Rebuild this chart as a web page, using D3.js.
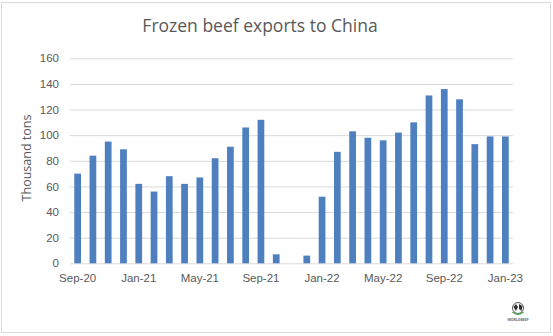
<!DOCTYPE html>
<html>
<head>
<meta charset="utf-8">
<script src="https://cdn.jsdelivr.net/npm/d3@7"></script>
<style>
  body { margin: 0; background: #fff; }
  svg { display: block; font-family: "Open Sans", "Noto Sans", sans-serif; }
</style>
</head>
<body>
<svg id="js-svg" width="553" height="336"></svg>
<script>
// monthly frozen beef exports, thousand tons
const months = [
  "Sep-20", "Oct-20", "Nov-20", "Dec-20", "Jan-21", "Feb-21", "Mar-21", "Apr-21",
  "May-21", "Jun-21", "Jul-21", "Aug-21", "Sep-21", "Oct-21", "Nov-21", "Dec-21",
  "Jan-22", "Feb-22", "Mar-22", "Apr-22", "May-22", "Jun-22", "Jul-22", "Aug-22",
  "Sep-22", "Oct-22", "Nov-22", "Dec-22", "Jan-23"
];
const exportsK = [
  70, 84, 95, 89, 62, 56, 68, 62,
  67, 82, 91, 106, 112, 7, 0, 6,
  52, 87, 103, 98, 96, 102, 110, 131,
  136, 128, 93, 99, 99
];
const tickLabels = ["Sep-20", "Jan-21", "May-21", "Sep-21", "Jan-22", "May-22", "Sep-22", "Jan-23"];
const yTicks = [0, 20, 40, 60, 80, 100, 120, 140, 160];

const svg = d3.select("#js-svg");
const plotLeft = 70, plotRight = 513, plotTop = 58.3, plotBottom = 263.3;

// outer chart frame
svg.append("rect")
  .attr("x", 1.5).attr("y", 2.5)
  .attr("width", 549).attr("height", 330)
  .attr("fill", "none")
  .attr("stroke", "#d9d9d9");

const x = d3.scaleBand().domain(months).range([plotLeft, plotRight]).paddingInner(0.56).paddingOuter(0.28);
const y = d3.scaleLinear().domain([0, 160]).range([plotBottom, plotTop]);

// gridlines + y labels
const yAxis = d3.axisLeft(y).tickValues(yTicks).tickSize(-(plotRight - plotLeft)).tickPadding(11);
const gy = svg.append("g").attr("transform", `translate(${plotLeft},0)`).call(yAxis);
gy.select(".domain").remove();
gy.selectAll("line").attr("stroke", "#d9d9d9");
gy.selectAll("text").attr("fill", "#595959").style("font-size", "11.5px");

// bars
svg.append("g").selectAll("rect")
  .data(exportsK)
  .join("rect")
  .attr("x", (d, i) => x(months[i]))
  .attr("width", x.bandwidth())
  .attr("y", (d) => y(d))
  .attr("height", (d) => plotBottom - y(d))
  .attr("fill", "#4e7fbf");

// x axis labels
const xAxis = d3.axisBottom(x).tickValues(tickLabels).tickSize(0).tickPadding(11);
const gx = svg.append("g").attr("transform", `translate(0,${plotBottom})`).call(xAxis);
gx.select(".domain").remove();
gx.selectAll("text").attr("fill", "#595959").style("font-size", "11.5px");

// title
svg.append("text")
  .attr("x", 260).attr("y", 32)
  .attr("text-anchor", "middle")
  .attr("fill", "#595959")
  .style("font-size", "17.5px")
  .text("Frozen beef exports to China");

// y axis title
svg.append("text")
  .attr("transform", "translate(31,158) rotate(-90)")
  .attr("text-anchor", "middle")
  .attr("fill", "#595959")
  .style("font-size", "12.5px")
  .text("Thousand tons");

// small logo bottom right
const logo = svg.append("g").attr("transform", "translate(518,308)");
logo.append("circle").attr("r", 5.5).attr("fill", "#fff").attr("stroke", "#555").attr("stroke-width", 1);
logo.append("path").attr("d", "M-4.5,-1 L-2,-4 L0,-1 L-2,3 Z").attr("fill", "#333");
logo.append("path").attr("d", "M1,-4 L4.5,-2 L3.5,3 L1,1 Z").attr("fill", "#333");
logo.append("path").attr("d", "M-5.5,4 Q0,8.5 5.5,4").attr("fill", "none").attr("stroke", "#4aa04a").attr("stroke-width", 1.3);
logo.append("text").attr("y", 12.5).attr("text-anchor", "middle")
  .attr("fill", "#666").style("font-size", "3.5px").style("font-weight", "bold")
  .text("WORLDBEEF");
</script>
</body>
</html>
